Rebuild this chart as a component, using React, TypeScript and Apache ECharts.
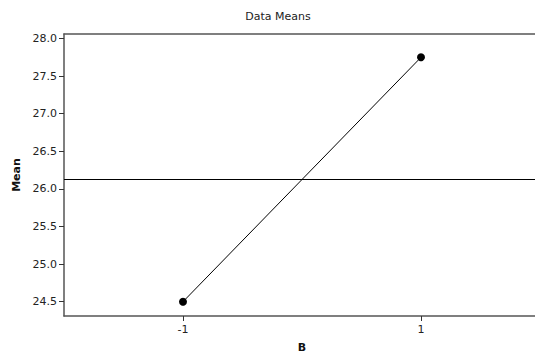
import React, { useEffect, useRef } from "react";
import * as echarts from "echarts";

const categories = ["-1", "1"];
const meanValues = [24.5, 27.75];
const grandMean = 26.125;
const yTicks = [24.5, 25.0, 25.5, 26.0, 26.5, 27.0, 27.5, 28.0];
const yMin = 24.31;
const yMax = 28.06;

const FONT = "'DejaVu Sans', Verdana, sans-serif";

export default function App() {
  const ref = useRef<HTMLDivElement>(null);
  useEffect(() => {
    if (!ref.current) return;
    const chart = echarts.init(ref.current, null, { renderer: "svg" });
    chart.setOption({
      animation: false,
      backgroundColor: "#ffffff",
      graphic: [
        {
          type: "text",
          x: 278,
          y: 16,
          style: {
            text: "Data Means",
            textAlign: "center",
            textVerticalAlign: "middle",
            fontSize: 11,
            fontFamily: FONT,
            fill: "#222",
          },
        },
      ],
      grid: {
        left: 64,
        right: 20,
        top: 34,
        bottom: 39,
        show: false,
      },
      xAxis: [
        {
          type: "category",
          data: categories,
          boundaryGap: true,
          name: "B",
          nameLocation: "middle",
          nameGap: 26,
          nameTextStyle: { fontSize: 11, fontWeight: "bold", fontFamily: FONT, color: "#111" },
          axisLine: { show: true, lineStyle: { color: "#555", width: 1.5 } },
          axisTick: { show: true, alignWithLabel: true, length: 5, lineStyle: { color: "#333" } },
          axisLabel: { fontSize: 11, fontFamily: FONT, color: "#222", margin: 8 },
          splitLine: { show: false },
        },
        {
          type: "category",
          position: "top",
          data: categories,
          boundaryGap: true,
          axisLine: { show: true, lineStyle: { color: "#555", width: 1.5 } },
          axisTick: { show: false },
          axisLabel: { show: false },
          splitLine: { show: false },
        },
      ],
      yAxis: {
        type: "value",
        min: yMin,
        max: yMax,
        name: "Mean",
        nameLocation: "middle",
        nameGap: 40,
        nameTextStyle: { fontSize: 11, fontWeight: "bold", fontFamily: FONT, color: "#111" },
        axisLine: { show: true, lineStyle: { color: "#555", width: 1.5 } },
        axisTick: { show: true, length: 5, customValues: yTicks, lineStyle: { color: "#333" } },
        axisLabel: {
          fontSize: 11,
          fontFamily: FONT,
          color: "#222",
          margin: 7,
          customValues: yTicks,
          formatter: (v: number) => v.toFixed(1),
        },
        splitLine: { show: false },
      },
      series: [
        {
          type: "line",
          xAxisIndex: 0,
          data: meanValues,
          symbol: "circle",
          symbolSize: 8,
          itemStyle: { color: "#000" },
          lineStyle: { color: "#000", width: 1 },
          markLine: {
            silent: true,
            symbol: "none",
            label: { show: false },
            lineStyle: { color: "#000", width: 1, type: "solid" },
            data: [{ yAxis: grandMean }],
          },
        },
      ],
    });
    return () => chart.dispose();
  }, []);
  return (
    <div style={{ position: "fixed", left: 0, top: 0, width: 535, height: 358, overflow: "hidden", background: "#fff" }}>
      <div ref={ref} style={{ width: 560, height: 358 }} />
    </div>
  );
}
